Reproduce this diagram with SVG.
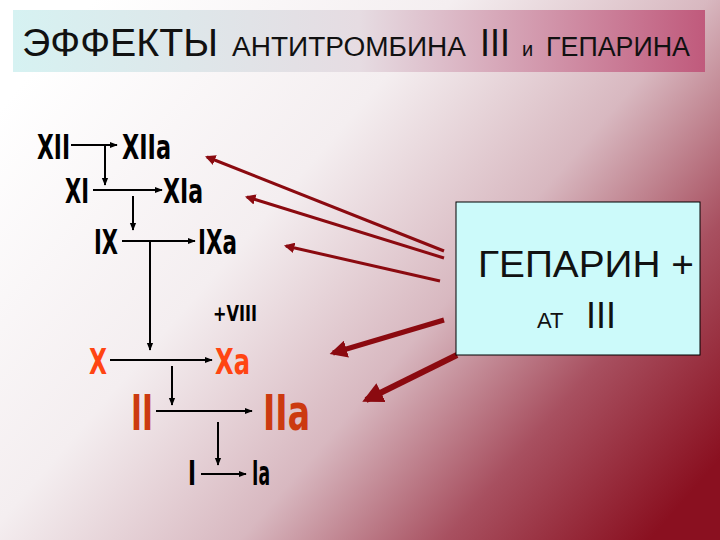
<svg xmlns="http://www.w3.org/2000/svg" width="720" height="540" viewBox="0 0 720 540">
<defs>
<linearGradient id="bg" x1="0" y1="0.2" x2="1" y2="0.85">
<stop offset="0" stop-color="#ffffff"/><stop offset="0.35" stop-color="#f4eef0"/><stop offset="0.6" stop-color="#d8b8c0"/><stop offset="0.8" stop-color="#a85060"/><stop offset="1" stop-color="#8a1020"/>
</linearGradient>
<linearGradient id="tb" x1="0" y1="0" x2="1" y2="0">
<stop offset="0" stop-color="#d6f2f2"/><stop offset="0.5" stop-color="#e6dce2"/><stop offset="1" stop-color="#c05a7c"/>
</linearGradient>
<marker id="ah" viewBox="0 0 10 10" refX="9" refY="5" markerWidth="4" markerHeight="4" orient="auto"><path d="M0,1 L10,5 L0,9 z" fill="#000"/></marker>
<marker id="rh" viewBox="0 0 10 10" refX="8" refY="5" markerWidth="3.5" markerHeight="3.5" orient="auto"><path d="M0,0 L10,5 L0,10 z" fill="#8b0a10"/></marker>
<style>
.f{font-family:"DejaVu Sans","Liberation Sans",sans-serif;font-weight:bold;font-stretch:condensed}
.t{font-family:"Liberation Sans",sans-serif;fill:#111}
.k{fill:#000}.r1{fill:#ff4512}.r2{fill:#cc3a10}
.l{stroke:#000;stroke-width:2;fill:none}
.ra{stroke:#8b0a10;fill:none}
</style>
</defs>
<rect width="720" height="540" fill="url(#bg)"/>
<rect x="13" y="10" width="692" height="62" fill="url(#tb)"/>
<text class="t" x="22" y="56" font-size="38" textLength="196" lengthAdjust="spacingAndGlyphs">ЭФФЕКТЫ</text>
<text class="t" x="232" y="56" font-size="27" textLength="234" lengthAdjust="spacingAndGlyphs">АНТИТРОМБИНА</text>
<text class="t" x="480" y="56" font-size="38" textLength="30" lengthAdjust="spacingAndGlyphs">III</text>
<text class="t" x="522" y="56" font-size="20">и</text>
<text class="t" x="546" y="56" font-size="27" textLength="144" lengthAdjust="spacingAndGlyphs">ГЕПАРИНА</text>
<g id="connectors">
<path class="l" d="M71,145 H117" marker-end="url(#ah)"/>
<path class="l" d="M105,146 V185" marker-end="url(#ah)"/>
<path class="l" d="M93,190 H162" marker-end="url(#ah)"/>
<path class="l" d="M133,196 V230" marker-end="url(#ah)"/>
<path class="l" d="M122,241 H195" marker-end="url(#ah)"/>
<path class="l" d="M150,242 V350" marker-end="url(#ah)"/>
<path class="l" d="M110,360 H212" marker-end="url(#ah)"/>
<path class="l" d="M172,366 V405" marker-end="url(#ah)"/>
<path class="l" d="M156,411 H252" marker-end="url(#ah)"/>
<path class="l" d="M218,422 V465" marker-end="url(#ah)"/>
<path class="l" d="M201,474 H246" marker-end="url(#ah)"/>
<path class="ra" stroke-width="3" d="M444,251 L207,157" marker-end="url(#rh)"/>
<path class="ra" stroke-width="3" d="M444,258 L247,197" marker-end="url(#rh)"/>
<path class="ra" stroke-width="3" d="M440,281 L286,246" marker-end="url(#rh)"/>
<path class="ra" stroke-width="5" d="M444,320 L333,353" marker-end="url(#rh)"/>
<path class="ra" stroke-width="6" d="M457,355 L366,400" marker-end="url(#rh)"/>
</g>
<g id="n-XII"><text class="f k" x="37" y="159" font-size="34" textLength="33" lengthAdjust="spacingAndGlyphs">XII</text></g>
<g id="n-XIIa"><text class="f k" x="122" y="159" font-size="34" textLength="49" lengthAdjust="spacingAndGlyphs">XIIa</text></g>
<g id="n-XI"><text class="f k" x="65" y="203" font-size="34" textLength="24" lengthAdjust="spacingAndGlyphs">XI</text></g>
<g id="n-XIa"><text class="f k" x="163" y="203" font-size="34" textLength="40" lengthAdjust="spacingAndGlyphs">XIa</text></g>
<g id="n-IX"><text class="f k" x="94" y="254" font-size="34" textLength="24" lengthAdjust="spacingAndGlyphs">IX</text></g>
<g id="n-IXa"><text class="f k" x="198" y="254" font-size="34" textLength="39" lengthAdjust="spacingAndGlyphs">IXa</text></g>
<g id="n-VIII"><text class="f k" x="213" y="321" font-size="21" textLength="44" lengthAdjust="spacingAndGlyphs">+VIII</text></g>
<g id="n-X"><text class="f r1" x="89" y="374" font-size="35" textLength="18" lengthAdjust="spacingAndGlyphs">X</text></g>
<g id="n-Xa"><text class="f r1" x="215" y="374" font-size="35" textLength="35" lengthAdjust="spacingAndGlyphs">Xa</text></g>
<g id="n-II"><text class="f r2" x="131" y="430" font-size="50" textLength="22" lengthAdjust="spacingAndGlyphs">II</text></g>
<g id="n-IIa"><text class="f r2" x="263" y="430" font-size="50" textLength="47" lengthAdjust="spacingAndGlyphs">IIa</text></g>
<g id="n-I"><text class="f k" x="188" y="485" font-size="34" textLength="8" lengthAdjust="spacingAndGlyphs">I</text></g>
<g id="n-Ia"><text class="f k" x="252" y="485" font-size="34" textLength="18" lengthAdjust="spacingAndGlyphs">Ia</text></g>
<g id="n-hep">
<rect x="456" y="202" width="244" height="153" fill="#ccfafa" stroke="#000" stroke-width="1"/>
<text class="t" x="478" y="277" font-size="37" textLength="216" lengthAdjust="spacingAndGlyphs">ГЕПАРИН +</text>
<text class="t" x="537" y="328" font-size="22">АТ</text>
<text class="t" x="586" y="328" font-size="36">III</text>
</g>
</svg>
